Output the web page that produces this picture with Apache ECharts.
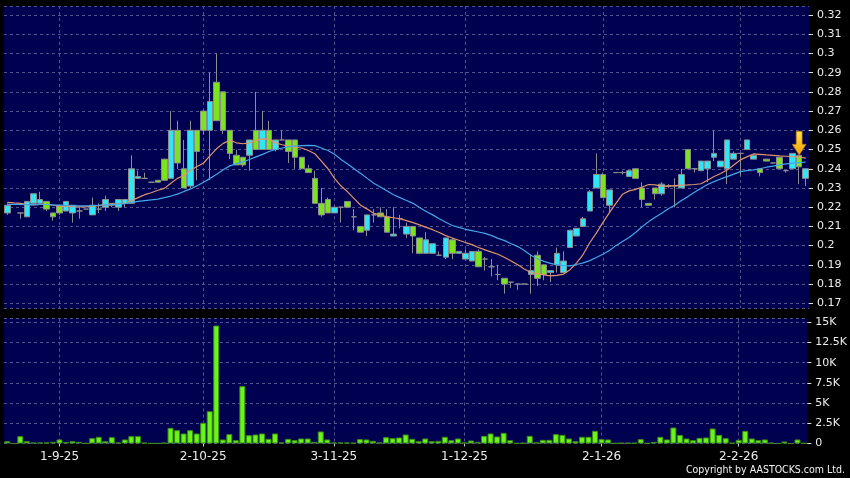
<!DOCTYPE html>
<html><head><meta charset="utf-8">
<script src="https://cdn.jsdelivr.net/npm/echarts@6/dist/echarts.min.js"></script>
<style>html,body{margin:0;padding:0;background:#000;}#c{width:850px;height:478px;}</style>
</head><body><div id="c"></div>
<script>
// Trading days (D-M-YY)
const dates = [
'20-8-25','21-8-25','22-8-25','25-8-25','26-8-25','27-8-25','28-8-25','29-8-25',
'1-9-25','2-9-25','3-9-25','4-9-25','5-9-25','8-9-25','9-9-25','10-9-25','11-9-25','12-9-25','15-9-25','16-9-25','17-9-25','18-9-25','19-9-25','22-9-25','23-9-25','24-9-25','25-9-25','26-9-25','29-9-25','30-9-25',
'2-10-25','3-10-25','6-10-25','8-10-25','9-10-25','10-10-25','13-10-25','14-10-25','15-10-25','16-10-25','17-10-25','20-10-25','21-10-25','22-10-25','23-10-25','24-10-25','27-10-25','28-10-25','30-10-25','31-10-25',
'3-11-25','4-11-25','5-11-25','6-11-25','7-11-25','10-11-25','11-11-25','12-11-25','13-11-25','14-11-25','17-11-25','18-11-25','19-11-25','20-11-25','21-11-25','24-11-25','25-11-25','26-11-25','27-11-25','28-11-25',
'1-12-25','2-12-25','3-12-25','4-12-25','5-12-25','8-12-25','9-12-25','10-12-25','11-12-25','12-12-25','15-12-25','16-12-25','17-12-25','18-12-25','19-12-25','22-12-25','23-12-25','24-12-25','29-12-25','30-12-25','31-12-25',
'2-1-26','5-1-26','6-1-26','7-1-26','8-1-26','9-1-26','12-1-26','13-1-26','14-1-26','15-1-26','16-1-26','19-1-26','20-1-26','21-1-26','22-1-26','23-1-26','26-1-26','27-1-26','28-1-26','29-1-26','30-1-26',
'2-2-26','3-2-26','4-2-26','5-2-26','6-2-26','9-2-26','10-2-26','11-2-26','12-2-26','13-2-26','16-2-26'
];
const tickLabels = ['1-9-25','2-10-25','3-11-25','1-12-25','2-1-26','2-2-26'];

const opens = [
0.217,null,0.217,0.215,0.222,0.222,0.223,0.217,0.221,0.218,
0.217,0.218,0.219,0.216,0.219,0.220,0.222,0.220,0.222,0.222,
0.235,0.235,0.233,0.234,0.245,0.235,0.260,0.240,0.231,0.260,
0.270,0.260,0.285,0.280,0.260,0.247,0.246,0.247,0.260,0.250,
0.260,0.250,0.255,0.255,0.255,0.246,0.240,0.235,0.222,0.224,
0.217,0.220,0.223,0.215,0.210,0.208,0.216,0.217,0.215,0.205,
0.214,0.206,0.210,0.204,0.196,0.196,0.195,0.194,0.203,0.196,
0.193,0.192,0.197,0.193,0.189,0.185,0.183,0.181,0.180,0.180,
0.185,0.195,0.190,0.186,0.190,0.186,0.199,0.205,0.210,0.218,
0.230,0.237,0.221,0.238,0.238,0.236,0.240,0.230,0.222,0.230,
0.227,0.231,0.231,0.230,0.250,0.240,0.239,0.240,0.246,0.241,
0.240,0.245,0.248,0.250,0.245,0.240,0.245,0.243,0.246,0.239,
0.240,0.247,0.235];
const closes = [
0.221,null,0.217,0.223,0.227,0.224,0.219,0.215,0.217,0.223,
0.221,0.218,0.219,0.221,0.219,0.224,0.221,0.224,0.224,0.240,
0.236,0.235,0.233,0.233,0.234,0.260,0.243,0.230,0.260,0.249,
0.260,0.275,0.265,0.260,0.248,0.242,0.242,0.255,0.250,0.260,
0.250,0.255,0.255,0.249,0.246,0.240,0.238,0.222,0.216,0.217,
0.220,0.220,0.220,0.215,0.207,0.216,0.216,0.215,0.207,0.206,
0.214,0.210,0.205,0.196,0.203,0.201,0.195,0.204,0.196,0.197,
0.196,0.197,0.189,0.193,0.189,0.185,0.180,0.181,0.180,0.180,
0.187,0.183,0.185,0.187,0.196,0.192,0.208,0.209,0.214,0.228,
0.237,0.225,0.229,0.238,0.238,0.239,0.235,0.224,0.221,0.227,
0.232,0.231,0.231,0.237,0.240,0.240,0.244,0.244,0.248,0.244,
0.255,0.248,0.248,0.255,0.247,0.238,0.244,0.243,0.240,0.239,
0.248,0.241,0.240];
const lows = [
0.216,null,0.214,0.215,0.222,0.222,0.218,0.213,0.216,0.218,
0.212,0.214,0.219,0.216,0.217,0.218,0.220,0.218,0.220,0.222,
0.235,0.235,0.233,0.233,0.234,0.235,0.240,0.230,0.230,0.234,
0.258,0.234,0.265,0.258,0.245,0.242,0.241,0.239,0.250,0.250,
0.250,0.249,0.255,0.243,0.240,0.240,0.238,0.222,0.215,0.217,
0.217,0.212,0.220,0.208,0.207,0.205,0.212,0.215,0.207,0.205,
0.209,0.204,0.196,0.196,0.196,0.196,0.195,0.193,0.193,0.196,
0.193,0.192,0.189,0.187,0.184,0.182,0.175,0.178,0.177,0.180,
0.175,0.179,0.182,0.181,0.186,0.186,0.199,0.205,0.210,0.218,
0.230,0.225,0.217,0.238,0.237,0.236,0.235,0.220,0.221,0.224,
0.226,0.230,0.220,0.230,0.240,0.238,0.239,0.233,0.244,0.241,
0.232,0.245,0.236,0.250,0.245,0.236,0.244,0.243,0.240,0.238,
0.240,0.232,0.231];
const highs = [
0.222,null,0.217,0.223,0.227,0.228,0.223,0.217,0.221,0.223,
0.221,0.220,0.219,0.225,0.222,0.226,0.222,0.224,0.224,0.247,
0.239,0.238,0.233,0.234,0.245,0.270,0.265,0.255,0.265,0.260,
0.270,0.290,0.300,0.280,0.260,0.250,0.246,0.255,0.280,0.270,
0.265,0.255,0.260,0.255,0.255,0.246,0.242,0.239,0.230,0.225,
0.220,0.220,0.223,0.219,0.210,0.216,0.219,0.220,0.219,0.220,
0.216,0.212,0.210,0.204,0.207,0.201,0.197,0.204,0.204,0.197,
0.198,0.197,0.198,0.194,0.193,0.190,0.183,0.181,0.180,0.180,
0.195,0.197,0.190,0.187,0.199,0.197,0.208,0.209,0.215,0.229,
0.248,0.238,0.229,0.238,0.239,0.239,0.240,0.233,0.222,0.230,
0.233,0.232,0.235,0.240,0.250,0.240,0.244,0.244,0.260,0.244,
0.255,0.249,0.248,0.255,0.247,0.240,0.245,0.243,0.246,0.239,
0.248,0.247,0.240];
const volumes = [
290,0,910,290,120,120,120,200,500,165,
290,200,30,660,830,290,785,120,500,910,
910,80,30,20,80,1940,1650,1240,1650,1240,
2560,4000,14600,500,1160,410,7100,1030,1115,1240,
580,1240,120,580,410,620,620,200,1490,500,
120,120,120,80,540,500,330,120,785,660,
745,1115,580,290,620,290,330,830,410,620,
120,370,200,950,1240,870,1320,410,40,80,
950,120,455,455,1160,1070,620,290,830,830,
1570,540,500,40,80,80,60,540,40,200,
830,500,1980,1070,620,410,700,745,1860,1070,
660,80,455,1570,620,410,500,80,0,250,
0,500,40];
const maShort = [
0.2225,0.2222,0.2220,0.2213,0.2212,0.2214,0.2215,0.2210,0.2205,0.2205,
0.2203,0.2202,0.2202,0.2205,0.2208,0.2212,0.2215,0.2218,0.2220,0.2235,
0.2250,0.2265,0.2275,0.2288,0.2298,0.2325,0.2350,0.2365,0.2392,0.2412,
0.2430,0.2468,0.2505,0.2532,0.2548,0.2535,0.2530,0.2535,0.2548,0.2555,
0.2553,0.2535,0.2525,0.2518,0.2512,0.2508,0.2495,0.2478,0.2440,0.2400,
0.2350,0.2310,0.2280,0.2245,0.2210,0.2190,0.2168,0.2160,0.2150,0.2145,
0.2140,0.2130,0.2120,0.2108,0.2095,0.2083,0.2068,0.2052,0.2040,0.2028,
0.2016,0.2005,0.1990,0.1978,0.1966,0.1955,0.1938,0.1920,0.1900,0.1878,
0.1860,0.1853,0.1848,0.1843,0.1845,0.1852,0.1875,0.1910,0.1955,0.2015,
0.2065,0.2120,0.2172,0.2220,0.2267,0.2285,0.2293,0.2305,0.2318,0.2316,
0.2310,0.2310,0.2312,0.2315,0.2316,0.2318,0.2322,0.2340,0.2360,0.2375,
0.2394,0.2420,0.2446,0.2462,0.2477,0.2475,0.2472,0.2470,0.2467,0.2465,
0.2463,0.2460,0.2455];
const maLong = [
0.2215,0.2215,0.2214,0.2213,0.2213,0.2214,0.2214,0.2212,0.2210,0.2209,
0.2208,0.2207,0.2207,0.2208,0.2210,0.2212,0.2214,0.2216,0.2219,0.2225,
0.2230,0.2234,0.2238,0.2242,0.2250,0.2258,0.2268,0.2282,0.2295,0.2312,
0.2330,0.2350,0.2372,0.2395,0.2415,0.2427,0.2436,0.2448,0.2462,0.2475,
0.2490,0.2500,0.2508,0.2515,0.2518,0.2520,0.2522,0.2520,0.2508,0.2495,
0.2475,0.2448,0.2425,0.2400,0.2375,0.2350,0.2325,0.2305,0.2285,0.2265,
0.2250,0.2235,0.2220,0.2198,0.2178,0.2160,0.2140,0.2122,0.2105,0.2095,
0.2085,0.2078,0.2071,0.2064,0.2052,0.2038,0.2026,0.2010,0.1995,0.1975,
0.1950,0.1932,0.1918,0.1908,0.1900,0.1896,0.1895,0.1902,0.1910,0.1922,
0.1938,0.1955,0.1975,0.2000,0.2022,0.2042,0.2068,0.2098,0.2125,0.2148,
0.2168,0.2192,0.2210,0.2235,0.2255,0.2278,0.2299,0.2318,0.2333,0.2347,
0.2359,0.2372,0.2385,0.2390,0.2394,0.2400,0.2408,0.2414,0.2420,0.2425,
0.2429,0.2432,0.2435];
const markerDate = '13-2-26';

const idxMarker = dates.indexOf(markerDate);
const candleData = dates.map((d, i) => opens[i] == null ? '-' : [opens[i], closes[i], lows[i], highs[i]]);
const isTick = (idx, val) => tickLabels.indexOf(val) >= 0;
const gridLine = { color: '#52528c', type: [3, 3], width: 1 };
const labelFont = 'DejaVu Sans';

const chart = echarts.init(document.getElementById('c'));
chart.setOption({
  backgroundColor: '#000',
  animation: false,
  grid: [
    { left: 4, right: 41, top: 6, bottom: 170, show: true, backgroundColor: '#000050', borderWidth: 0 },
    { left: 4, right: 41, top: 318.5, bottom: 34.5, show: true, backgroundColor: '#000050', borderWidth: 0 }
  ],
  xAxis: [
    { type: 'category', data: dates, gridIndex: 0, boundaryGap: true,
      axisLine: { show: false }, axisTick: { show: false }, axisLabel: { show: false },
      splitLine: { show: true, interval: isTick, alignWithLabel: true, lineStyle: gridLine } },
    { type: 'category', data: dates, gridIndex: 1, boundaryGap: true,
      axisLine: { show: false },
      axisTick: { show: true, alignWithLabel: true, interval: isTick, length: 3, lineStyle: { color: '#cfcfcf' } },
      axisLabel: { interval: isTick, color: '#ececec', fontFamily: labelFont, fontSize: 12, margin: 7 },
      splitLine: { show: true, interval: isTick, alignWithLabel: true, lineStyle: gridLine } }
  ],
  yAxis: [
    { type: 'value', gridIndex: 0, position: 'right', min: 0.16755, max: 0.32468,
      minInterval: 0.01, maxInterval: 0.01,
      axisLine: { show: false },
      axisTick: { show: true, length: 4, lineStyle: { color: '#dddddd' } },
      axisLabel: { color: '#ececec', fontFamily: labelFont, fontSize: 11, margin: 8, showMinLabel: false, showMaxLabel: false },
      splitLine: { show: true, lineStyle: gridLine } },
    { type: 'value', gridIndex: 1, position: 'right', min: 0, max: 15470,
      minInterval: 2500, maxInterval: 2500,
      axisLine: { show: false },
      axisTick: { show: true, length: 4, lineStyle: { color: '#dddddd' } },
      axisLabel: { color: '#ececec', fontFamily: labelFont, fontSize: 11, margin: 8, showMaxLabel: false,
        formatter: v => v === 0 ? '0' : (v / 1000) + 'K' },
      splitLine: { show: true, lineStyle: gridLine } }
  ],
  series: [
    { type: 'candlestick', xAxisIndex: 0, yAxisIndex: 0, data: candleData, barWidth: 6,
      itemStyle: { color: '#2ee6f6', color0: '#7ce41e', borderColor: '#8d8d8d', borderColor0: '#8d8d8d', borderWidth: 1 },
      markPoint: {
        silent: true,
        symbol: 'path://M4,0L10,0L10,13L14,13L7,24L0,13L4,13Z',
        symbolSize: [14, 24],
        symbolOffset: [0, '-50%'],
        label: { show: false },
        itemStyle: { color: new echarts.graphic.LinearGradient(0, 0, 0, 1, [
          { offset: 0, color: '#ffe34d' }, { offset: 1, color: '#f0a000' }]), borderColor: '#a86a00', borderWidth: 0.6 },
        data: [{ coord: [idxMarker, opens[idxMarker]] }]
      } },
    { type: 'line', xAxisIndex: 0, yAxisIndex: 0, data: maShort, showSymbol: false, silent: true,
      lineStyle: { color: '#e0946a', width: 1.2 }, z: 3 },
    { type: 'line', xAxisIndex: 0, yAxisIndex: 0, data: maLong, showSymbol: false, silent: true,
      lineStyle: { color: '#44a6e6', width: 1.2 }, z: 3 },
    { type: 'bar', xAxisIndex: 1, yAxisIndex: 1, data: volumes, barWidth: 6,
      itemStyle: { color: '#6af51a', borderColor: '#3c8c14', borderWidth: 1 } }
  ],
  graphic: [
    { type: 'text', right: 5, top: 465, silent: true,
      style: { text: 'Copyright by AASTOCKS.com Ltd.', fill: '#f2f2f2', font: '10.5px "DejaVu Sans Condensed", "DejaVu Sans"' } }
  ]
});
</script></body></html>
